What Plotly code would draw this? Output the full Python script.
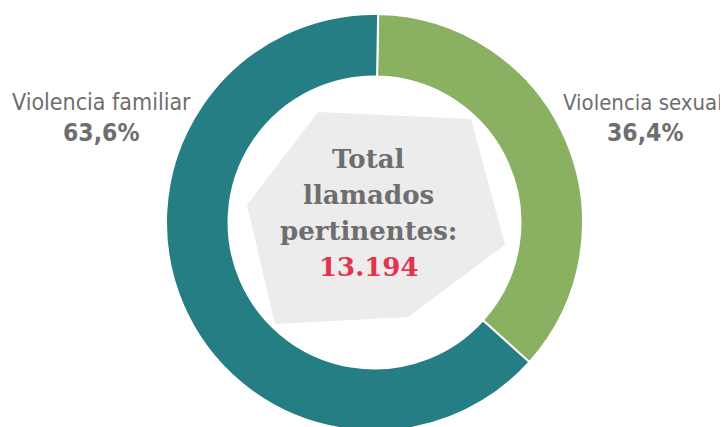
import plotly.graph_objects as go

categories = ["Violencia sexual", "Violencia familiar"]
values = [36.4, 63.6]
pct_labels = ["36,4%", "63,6%"]
total_label = "13.194"
colors = ["#8AB062", "#267E85"]

W, H = 728, 423
ML, MR, MT, MB = 5, 0, 6, 0
OFF = 8  # page body margin

fig = go.Figure()
fig.add_trace(go.Pie(
    labels=categories,
    values=values,
    hole=0.70,
    sort=False,
    direction="clockwise",
    rotation=1,
    marker=dict(colors=colors, line=dict(color="white", width=2)),
    textinfo="none",
    hoverinfo="label+percent",
    showlegend=False,
    domain=dict(x=[0, 1], y=[0, 1]),
))

def px(x):
    return (x - OFF - ML) / (W - ML - MR)

def py(y):
    return 1 - (y - OFF - MT) / (H - MT - MB)

poly = [(318, 112), (471, 119), (505, 245), (408, 317), (275, 324), (247, 205)]
path = "M " + " L ".join(f"{px(x):.4f},{py(y):.4f}" for x, y in poly) + " Z"
fig.add_shape(type="path", path=path, xref="paper", yref="paper",
              fillcolor="#ECECEC", line=dict(width=0), layer="above")

label_font = dict(family="Liberation Sans Narrow, DejaVu Sans Condensed, sans-serif", color="#6E6E6E")

def ann(x, y, text, font):
    fig.add_annotation(x=px(x), y=py(y), xref="paper", yref="paper", showarrow=False,
                       xanchor="center", yanchor="middle", text=text, font=font)

ann(101, 102, categories[1], dict(size=23, **label_font))
ann(101, 132, f"<b>{pct_labels[1]}</b>", dict(size=24.5, **label_font))
ann(643, 102, categories[0], dict(size=22, **label_font))
ann(645, 132, f"<b>{pct_labels[0]}</b>", dict(size=24.5, **label_font))

center_font = dict(family="DejaVu Serif, serif", size=26, color="#6E6E6E")
for txt, y in [("Total", 159), ("llamados", 195), ("pertinentes:", 231)]:
    ann(368, y, f"<b>{txt}</b>", center_font)
ann(369, 267, f"<b>{total_label}</b>", dict(family="DejaVu Serif, serif", size=26, color="#E5334F"))

fig.update_layout(
    width=W, height=H,
    margin=dict(l=ML, r=MR, t=MT, b=MB),
    paper_bgcolor="white",
    plot_bgcolor="white",
)

fig.write_html("out.html")
